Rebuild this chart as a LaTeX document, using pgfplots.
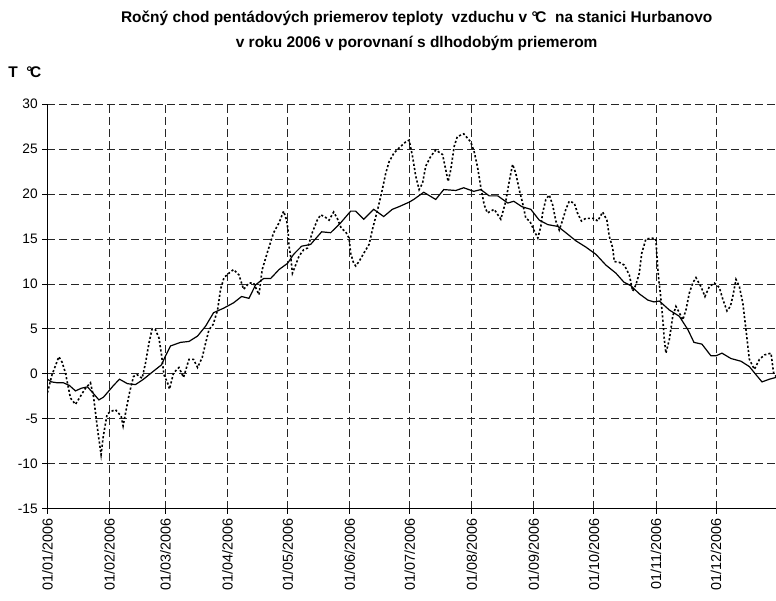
\documentclass[border=0pt]{standalone}
\usepackage{fontspec}
\setmainfont{Liberation Sans}
\usepackage{pgfplots}
\pgfplotsset{compat=1.18}
\begin{document}
\begin{tikzpicture}
\begin{axis}[
  name=ax,
  scale only axis,
  width=546.75pt, height=303.5pt,
  xmin=0, xmax=364, ymin=-15, ymax=30,
  ytick={-15,-10,-5,0,5,10,15,20,25,30},
  xtick={0,31,59,90,120,151,181,212,243,273,304,334},
  xticklabels={01/01/2006,01/02/2006,01/03/2006,01/04/2006,01/05/2006,01/06/2006,01/07/2006,01/08/2006,01/09/2006,01/10/2006,01/11/2006,01/12/2006},
  xticklabel style={rotate=90, anchor=east, font=\fontsize{10.8}{12}\selectfont},
  yticklabel style={font=\fontsize{10.3}{12}\selectfont},
  axis x line=bottom, axis y line=left,
  axis line style={-, black, line width=0.8pt},
  tick align=outside, major tick length=3.75pt,
  tick style={black, line width=0.6pt},
  grid=major,
  major grid style={black!85, line width=0.6pt, dash pattern=on 6pt off 3pt},
  /pgf/number format/assume math mode=true,
]
% long-term mean
\addplot[black, line width=0.9pt, mark=none] coordinates {
(0,-0.6) (2,-0.9) (5,-1.0) (8,-1.0) (11,-1.3) (14,-1.9) (17,-1.6) (20,-1.45) (23,-2.2) (25.7,-2.9) (28,-2.6) (30.7,-1.9) (33,-1.3) (36,-0.6) (40,-1.1) (44,-1.2) (48,-0.6) (53,0.3) (57,1.0) (59,2.0) (61.5,3.1) (66.5,3.5) (70.7,3.6) (75,4.2) (79,5.3) (83,6.8) (88,7.3) (93,7.9) (97,8.6) (100.7,8.4) (104,9.9) (108,10.6) (111.5,10.6) (115.7,11.6) (120,12.3) (123,13.3) (127,14.2) (131.5,14.4) (137,15.8) (141.5,15.7) (146.5,16.8) (151.5,18.1) (154,18.1) (158,17.2) (163,18.3) (168,17.5) (172.3,18.3) (175.7,18.6) (180.7,19.1) (183,19.4) (188,20.2) (194,19.4) (198,20.5) (204,20.4) (208,20.7) (213,20.3) (216.5,20.5) (220.7,19.8) (225,19.8) (230,19.0) (233,19.2) (237,18.6) (241.5,18.3) (245.7,17.1) (250,16.6) (255,16.4) (259,15.7) (264,14.8) (269,14.1) (274,13.3) (279,12.1) (284,11.2) (288,10.2) (291.5,9.8) (295.7,8.9) (300,8.2) (303,8.0) (305.7,8.1) (310.7,7.1) (315.7,6.4) (320,4.9) (323,3.5) (327,3.3) (331.5,2.0) (334,2.0) (337,2.3) (341.5,1.7) (346.5,1.4) (350.7,0.8) (354,-0.1) (357,-0.9) (360.7,-0.6) (364,-0.4)
};
% 2006
\addplot[black, line width=1.2pt, dash pattern=on 1.6pt off 1.6pt, mark=none] coordinates {
(0,-2.1) (2.3,-0.1) (4,0.9) (5.7,1.9) (7.3,1.3) (9,0.1) (11.5,-2.7) (14,-3.4) (16.5,-2.5) (19,-1.6) (21.5,-1.0) (23,-2.5) (24,-4.3) (25.3,-6.6) (26.8,-9.0) (27.8,-7.1) (29.8,-4.5) (31.5,-4.2) (34,-4.0) (36.8,-4.7) (37.8,-5.8) (39.5,-3.8) (41,-2.1) (43,-0.3) (44.8,-0.1) (47.3,-0.5) (49,1.2) (50.7,3.4) (52.3,5.0) (54,4.9) (55.7,4.0) (57,2.1) (58.2,-0.1) (60,-1.0) (61,-1.7) (63,0.1) (65.7,0.7) (68,-0.4) (70.7,1.6) (73,1.6) (75,0.7) (77.3,1.8) (79,3.4) (80.7,4.9) (82.8,5.5) (85,7.1) (86.5,9.4) (88.2,10.7) (90.7,11.2) (93,11.6) (95.7,11.0) (98,9.4) (100.7,10.1) (103,10.1) (105.7,8.8) (107.3,11.6) (110,13.6) (113,15.7) (115.7,16.8) (118,18.1) (119.5,17.1) (120.2,16.0) (120.7,14.2) (121.5,13.1) (122.4,11.2) (124,12.1) (125.7,13.1) (128,13.8) (130,14.0) (132.3,15.7) (134.8,17.1) (136.5,17.7) (139,17.4) (140.7,17.1) (143,18.0) (144.8,17.3) (146.8,16.2) (149,15.8) (150.7,15.1) (151.5,13.4) (153,12.3) (154,12.0) (155.7,12.5) (158,13.4) (160.7,14.4) (162.3,16.0) (165,18.3) (167.3,20.5) (169,22.3) (170.7,23.6) (173.2,24.6) (176.5,25.3) (179,25.8) (180.7,26.0) (182.4,24.2) (184,22.0) (185.7,20.5) (187.4,21.2) (189,23.1) (191.5,24.2) (194,24.9) (197.4,24.4) (199,22.7) (200.2,21.4) (201.5,22.7) (203.2,25.3) (204.8,26.4) (208,26.7) (211.5,25.8) (213.2,24.7) (214.8,23.1) (216.5,20.8) (218.2,18.8) (219.8,17.9) (223.2,18.3) (226.5,17.2) (229,19.2) (230.7,21.4) (232.4,23.3) (234,22.3) (235.7,20.5) (237.4,19.0) (239,17.3) (241,17.0) (243,16.0) (245,15.1) (246.5,16.4) (247.4,17.9) (249,19.4) (250.7,19.9) (252.4,18.8) (254,17.0) (255.7,16.0) (257.4,17.1) (259,18.3) (260.7,19.2) (263.2,19.0) (264.8,17.9) (266.8,17.0) (269,17.3) (273.2,17.3) (274.9,17.0) (277.4,18.0) (279.5,17.1) (280.7,15.3) (282.4,14.0) (283.2,12.5) (285.7,12.4) (288.2,12.1) (290.7,11.0) (292.4,9.2) (294,9.9) (295.7,11.2) (296.9,13.4) (299,15.0) (302,15.1) (304,15.0) (304.5,13.1) (305,11.6) (305.5,10.3) (306.2,9.0) (307.4,6.2) (308.2,3.8) (309,2.3) (310.7,3.8) (312.4,6.4) (314,7.5) (315.7,6.8) (317.4,6.0) (319,7.1) (320.7,9.0) (322.4,10.1) (324,10.7) (326.5,9.7) (328.5,8.6) (330.7,9.7) (333.2,10.1) (335.7,9.6) (337.4,8.3) (339.5,7.0) (341.2,7.5) (342.4,8.6) (344,10.5) (345.7,9.7) (347.4,7.9) (349,4.9) (350.7,1.6) (353.2,0.5) (355.7,1.6) (358.2,2.1) (361.5,2.3) (362.8,0.1) (364,-0.3)
};
\end{axis}
\node[anchor=base, inner sep=0, font=\bfseries\fontsize{11.6}{12}\selectfont] at ([xshift=277.1pt, yshift=61pt]ax.north west) {Ročný chod pentádových priemerov teploty\ \ vzduchu v °\kern-1.8pt C\ \ na stanici Hurbanovo};
\node[anchor=base, inner sep=0, font=\bfseries\fontsize{11.6}{12}\selectfont] at ([xshift=277.1pt, yshift=42.2pt]ax.north west) {v roku 2006 v porovnaní s dlhodobým priemerom};
\node[anchor=base west, inner sep=0, font=\bfseries\fontsize{11.6}{12}\selectfont] at ([xshift=-29.6pt, yshift=19.7pt]ax.north west) {T\ \ °\kern-1.8pt C};
\pgfresetboundingbox
\path[use as bounding box] ([xshift=-35.6pt, yshift=-69pt]ax.south west) rectangle ([yshift=78.2pt]ax.north east);
\end{tikzpicture}
\end{document}
